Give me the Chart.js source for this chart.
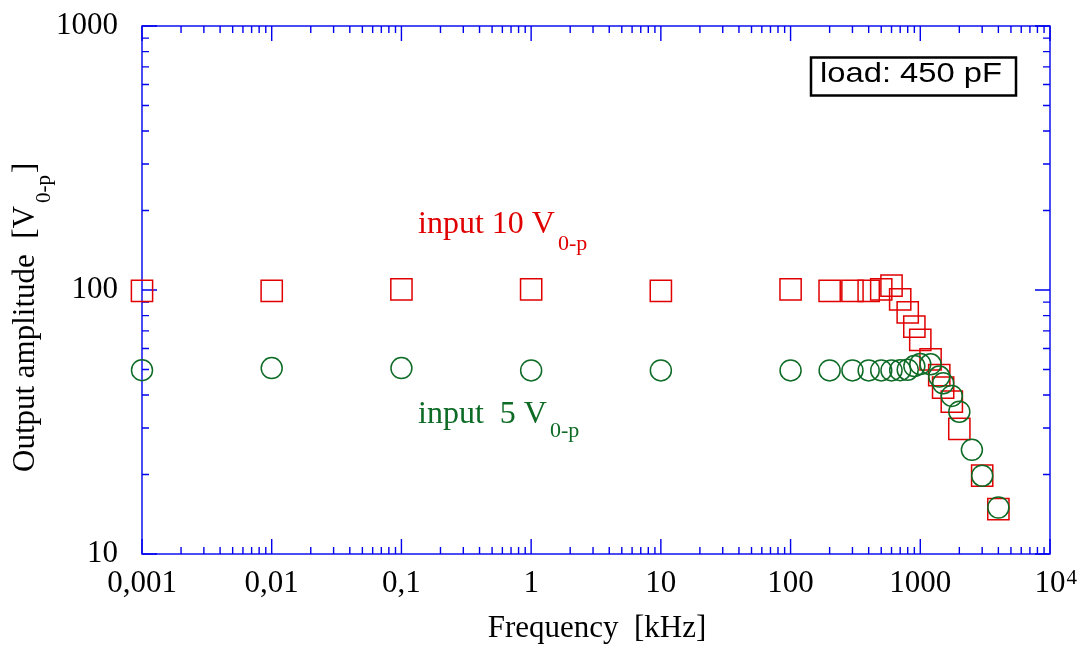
<!DOCTYPE html>
<html lang="en">
<head>
  <meta charset="UTF-8">
  <title>Output amplitude vs frequency</title>
  <script src="https://cdn.jsdelivr.net/npm/chart.js"></script>
  <style>
    body{
      margin: 0;
      background: #fff;
    }
    #wrap{
      width: 1085px;
      height: 648px;
    }
  </style>
</head>
<body>
  <div id="wrap">
    <canvas id="ampChart" width="1085" height="648"></canvas>
  </div>

  <script>
    // frequency in kHz, amplitude in V0-p
    const freq10V = [0.001, 0.01, 0.1, 1, 10, 100, 200, 300, 400, 500, 600, 700, 800, 900, 1000, 1200, 1400, 1500, 1750, 2000, 3000, 4000];
    const amp10V  = [99.2, 99.2, 100.5, 100.5, 99.2, 100.5, 99.2, 99.2, 99.2, 100.6, 103.8, 92.2, 82.3, 72.6, 64.7, 54.6, 47.6, 42.7, 37.8, 29.8, 19.8, 14.8];

    const freq5V = [0.001, 0.01, 0.1, 1, 10, 100, 200, 300, 400, 500, 600, 700, 800, 900, 1000, 1200, 1400, 1500, 1750, 2000, 2500, 3000, 4000];
    const amp5V  = [49.7, 50.6, 50.6, 49.6, 49.6, 49.6, 49.6, 49.6, 49.6, 49.6, 49.6, 49.7, 49.9, 51.5, 52.4, 52.3, 47.0, 44.3, 39.7, 34.6, 24.8, 19.8, 15.0];

    const xTickValues = [0.001, 0.01, 0.1, 1, 10, 100, 1000, 10000];
    const xTickLabels = ['0,001', '0,01', '0,1', '1', '10', '100', '1000', '10'];
    const xLastExponent = '4';
    const yTickValues = [10, 100, 1000];
    const yTickLabels = ['10', '100', '1000'];

    const serif = "'Liberation Serif', 'DejaVu Serif', serif";
    const sans = "'Liberation Sans', Arial, sans-serif";
    const axisBlue = '#0000ee';
    const red = '#e00000';
    const green = '#0d6b25';

    function toPoints(xs, ys) {
      return xs.map((x, i) => ({ x: x, y: ys[i] }));
    }

    // frame on all four sides with inward major/minor ticks
    const frameTicks = {
      id: 'frameTicks',
      beforeDatasetsDraw(chart) {
        const ctx = chart.ctx;
        const a = chart.chartArea;
        const xs = chart.scales.x;
        const ys = chart.scales.y;
        ctx.save();
        ctx.strokeStyle = axisBlue;
        ctx.lineWidth = 1.4;
        ctx.strokeRect(a.left, a.top, a.right - a.left, a.bottom - a.top);

        ctx.beginPath();
        xTickValues.forEach((v, i) => {
          const px = xs.getPixelForValue(v);
          ctx.moveTo(px, a.bottom); ctx.lineTo(px, a.bottom - 15);
          ctx.moveTo(px, a.top); ctx.lineTo(px, a.top + 15);
          if (i < xTickValues.length - 1) {
            for (let k = 2; k <= 9; k++) {
              const mx = xs.getPixelForValue(k * v);
              ctx.moveTo(mx, a.bottom); ctx.lineTo(mx, a.bottom - 7);
              ctx.moveTo(mx, a.top); ctx.lineTo(mx, a.top + 7);
            }
          }
        });
        yTickValues.forEach((v, i) => {
          const py = ys.getPixelForValue(v);
          ctx.moveTo(a.left, py); ctx.lineTo(a.left + 15, py);
          ctx.moveTo(a.right, py); ctx.lineTo(a.right - 15, py);
          if (i < yTickValues.length - 1) {
            for (let k = 2; k <= 9; k++) {
              const my = ys.getPixelForValue(k * v);
              ctx.moveTo(a.left, my); ctx.lineTo(a.left + 7, my);
              ctx.moveTo(a.right, my); ctx.lineTo(a.right - 7, my);
            }
          }
        });
        ctx.stroke();
        ctx.restore();
      }
    };

    // draws main text then a lowered, smaller part; returns x after it
    function subText(ctx, x, y, main, sub, size, subSize, drop) {
      ctx.font = size + 'px ' + serif;
      ctx.fillText(main, x, y);
      const w = ctx.measureText(main).width;
      ctx.font = subSize + 'px ' + serif;
      ctx.fillText(sub, x + w + 3, y + drop);
      return x + w + 3 + ctx.measureText(sub).width;
    }

    const labelsPlugin = {
      id: 'labelsPlugin',
      afterDraw(chart) {
        const ctx = chart.ctx;
        const xs = chart.scales.x;
        const a = chart.chartArea;
        ctx.save();
        ctx.textBaseline = 'alphabetic';
        ctx.textAlign = 'left';

        // exponent of the last x tick label
        ctx.fillStyle = '#000';
        ctx.font = '31px ' + serif;
        const baseW = ctx.measureText(xTickLabels[xTickLabels.length - 1]).width;
        ctx.font = '21px ' + serif;
        ctx.fillText(xLastExponent, xs.getPixelForValue(xTickValues[xTickValues.length - 1]) + baseW / 2 + 1, a.bottom + 30);

        // axis titles
        ctx.font = '31px ' + serif;
        ctx.textAlign = 'center';
        ctx.fillText('Frequency  [kHz]', 597, 637);
        ctx.textAlign = 'left';

        ctx.save();
        ctx.translate(34, 472);
        ctx.rotate(-Math.PI / 2);
        const end = subText(ctx, 0, 0, 'Output amplitude  [V', '0-p', 31, 21, 16);
        ctx.font = '31px ' + serif;
        ctx.fillText(']', end + 2, 0);
        ctx.restore();

        // series annotations
        ctx.fillStyle = red;
        subText(ctx, 418, 233, 'input 10 V', '0-p', 32, 22, 17);
        ctx.fillStyle = green;
        subText(ctx, 418, 423, 'input  5 V', '0-p', 32, 22, 14);

        // load box
        ctx.strokeStyle = '#000';
        ctx.lineWidth = 2.5;
        ctx.strokeRect(811, 57.5, 205, 38);
        ctx.fillStyle = '#000';
        ctx.font = '28px ' + sans;
        const tw = ctx.measureText('load: 450 pF').width;
        ctx.translate(820, 82);
        ctx.scale(182 / tw, 1);
        ctx.fillText('load: 450 pF', 0, 0);
        ctx.restore();
      }
    };

    const ctx = document.getElementById('ampChart').getContext('2d');
    const ampChart = new Chart(ctx, {
      type: 'scatter',
      data: {
        datasets: [
          {
            label: 'input 5 V0-p',
            data: toPoints(freq5V, amp5V),
            pointStyle: 'circle',
            pointRadius: 10.5,
            pointHoverRadius: 10.5,
            borderColor: green,
            backgroundColor: 'rgba(0,0,0,0)',
            borderWidth: 1.5,
            clip: false
          },
          {
            label: 'input 10 V0-p',
            data: toPoints(freq10V, amp10V),
            pointStyle: 'rect',
            pointRadius: 15,
            pointHoverRadius: 15,
            borderColor: red,
            backgroundColor: 'rgba(0,0,0,0)',
            borderWidth: 1.5,
            clip: false
          }
        ]
      },
      options: {
        responsive: false,
        animation: false,
        layout: {
          padding: { top: 26, right: 35, left: 0, bottom: 0 }
        },
        plugins: {
          legend: { display: false },
          tooltip: { enabled: false }
        },
        scales: {
          x: {
            type: 'logarithmic',
            min: 0.001,
            max: 10000,
            afterBuildTicks: s => { s.ticks = xTickValues.map(v => ({ value: v })); },
            afterFit: s => { s.height = 94; s.paddingLeft = 0; s.paddingRight = 0; },
            grid: { display: false, drawTicks: false },
            border: { display: false },
            ticks: {
              autoSkip: false,
              maxRotation: 0,
              padding: 11,
              color: '#000',
              font: { family: serif, size: 31 },
              callback: (v, i) => xTickLabels[i]
            }
          },
          y: {
            type: 'logarithmic',
            min: 10,
            max: 1000,
            afterBuildTicks: s => { s.ticks = yTickValues.map(v => ({ value: v })); },
            afterFit: s => { s.width = 142; s.paddingTop = 0; s.paddingBottom = 0; },
            grid: { display: false, drawTicks: false },
            border: { display: false },
            ticks: {
              autoSkip: false,
              padding: 24,
              color: '#000',
              font: { family: serif, size: 31 },
              callback: (v, i) => yTickLabels[i]
            }
          }
        }
      },
      plugins: [frameTicks, labelsPlugin]
    });
  </script>
</body>
</html>
